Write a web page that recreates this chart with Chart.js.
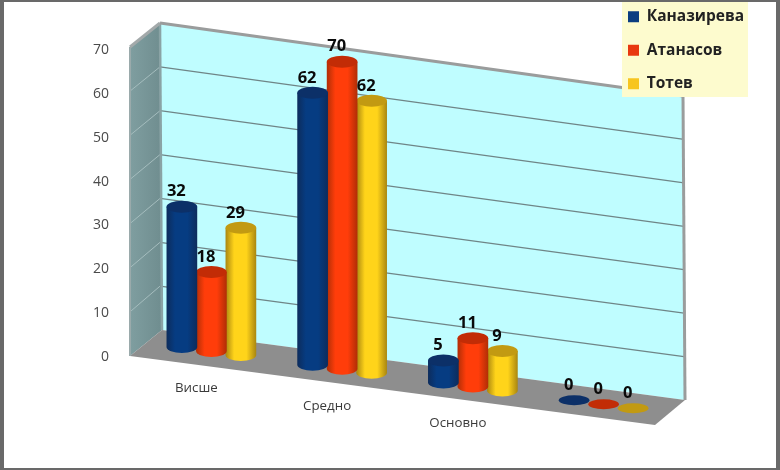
<!DOCTYPE html>
<html><head><meta charset="utf-8">
<style>html,body{margin:0;padding:0;background:#fff;overflow:hidden}canvas{display:block}</style>
<script src="https://cdn.jsdelivr.net/npm/chart.js@4/dist/chart.umd.js"></script>
</head><body><canvas id="c" width="780" height="470"></canvas>
<script>
const categories = ['Висше', 'Средно', 'Основно', ''];
const seriesNames = ['Каназирева', 'Атанасов', 'Тотев'];
const kanazireva = [32, 62, 5, 0];
const atanasov = [18, 70, 11, 0];
const totev = [29, 62, 9, 0];
const legendColors = ['#0b3d80', '#e8380f', '#f7c51f'];
const bodyEdge = ['#0d2c5c', '#b02e06', '#a98610'];
const bodyMid = ['#063c82', '#ff3d0a', '#ffd41a'];
const capColors = ['#0c3068', '#c22c06', '#c29a12'];

const SHEAR = 0.1356, SHEAR_X0 = 255.7, RY = 6;
const shearOffset = x => SHEAR * (x - SHEAR_X0);

function drawCylinder(ctx, el, ds) {
  const x = el.x, rx = el.width / 2, off = shearOffset(x);
  const top = el.y + off, base = el.base + off;
  ctx.save();
  if (base - top > 0.5) {
    const g = ctx.createLinearGradient(x - rx, 0, x + rx, 0);
    g.addColorStop(0, bodyEdge[ds]);
    g.addColorStop(0.28, bodyMid[ds]);
    g.addColorStop(0.68, bodyMid[ds]);
    g.addColorStop(1, bodyEdge[ds]);
    ctx.fillStyle = g;
    ctx.beginPath();
    ctx.moveTo(x - rx, top);
    ctx.lineTo(x - rx, base);
    ctx.ellipse(x, base, rx, RY, 0, Math.PI, 0, true);
    ctx.lineTo(x + rx, top);
    ctx.closePath();
    ctx.fill();
    ctx.fillStyle = capColors[ds];
    ctx.beginPath();
    ctx.ellipse(x, top, rx, RY, 0, 0, Math.PI * 2);
    ctx.fill();
  } else {
    ctx.fillStyle = capColors[ds];
    ctx.beginPath();
    ctx.ellipse(x, top, rx, 5, 0, 0, Math.PI * 2);
    ctx.fill();
  }
  ctx.restore();
}

function poly(ctx, pts, fill) {
  ctx.beginPath();
  pts.forEach((p, i) => i ? ctx.lineTo(p[0], p[1]) : ctx.moveTo(p[0], p[1]));
  ctx.closePath();
  ctx.fillStyle = fill;
  ctx.fill();
}
function seg(ctx, a, b, color, w) {
  ctx.beginPath(); ctx.moveTo(a[0], a[1]); ctx.lineTo(b[0], b[1]);
  ctx.strokeStyle = color; ctx.lineWidth = w; ctx.stroke();
}

const scene3d = {
  id: 'scene3d',
  afterDatasetsUpdate(chart) {
    chart.data.datasets.forEach((d, i) => {
      chart.getDatasetMeta(i).data.forEach(el => {
        el.draw = function (ctx) { drawCylinder(ctx, this, i); };
      });
    });
  },
  beforeDraw(chart) {
    const ctx = chart.ctx, yS = chart.scales.y, xS = chart.scales.x;
    // shift the category labels along the slanted floor
    xS.getLabelItems().forEach(it => {
      if (it._moved) return;
      it._moved = true;
      const t = it.options.translation;
      t[1] = 380 + SHEAR * (t[0] - 211);
      t[0] -= 15;
    });
    // move the legend to the top right corner
    const lg = chart.legend;
    lg.left = 610; lg.right = 775; lg.top = -9; lg.bottom = 120;

    ctx.save();
    ctx.fillStyle = '#fff';
    ctx.fillRect(0, 0, 780, 470);
    const FL = [130, 356], FTL = [130, 47], BL = [162, 330], BTL = [160, 23], BR = [685, 400], BTR = [683, 96], FR = [655, 425];
    const side = ctx.createLinearGradient(130, 0, 160, 0);
    side.addColorStop(0, '#7f9ea0'); side.addColorStop(1, '#708e90');
    poly(ctx, [FTL, BTL, BL, FL], side);
    poly(ctx, [BTL, BTR, BR, BL], '#bffdff');
    poly(ctx, [FL, BL, BR, FR], '#8e8e8e');
    yS.ticks.forEach(tk => {
      if (tk.value === 0 || tk.value === 70) return;
      const t = tk.value / 70;
      const fy = FL[1] - (FL[1] - FTL[1]) * t;
      const by = BL[1] - (BL[1] - BTL[1]) * t;
      const ry = BR[1] - (BR[1] - BTR[1]) * t;
      seg(ctx, [130, fy], [BTL[0], by], '#a5bdbe', 1);
      seg(ctx, [BTL[0], by], [BR[0] - 1, ry], '#6f8587', 1.2);
    });
    seg(ctx, BTL, BL, '#8aa3a5', 2.5);
    seg(ctx, [FTL[0], FTL[1]], FL, '#9aaaab', 2);
    seg(ctx, FTL, BTL, '#a3a9aa', 3);
    seg(ctx, BTL, BTR, '#9a9c9c', 3);
    seg(ctx, BTR, BR, '#9a9c9c', 3);
    poly(ctx, [[622, 2], [748, 2], [748, 97], [622, 97]], '#fdfbce');
    // frame
    ctx.fillStyle = '#696969';
    ctx.fillRect(0, 0, 780, 2);
    ctx.fillRect(0, 468, 780, 2);
    ctx.fillRect(0, 0, 4, 470);
    ctx.fillRect(776, 0, 4, 470);
    ctx.restore();
  },
  afterDatasetsDraw(chart) {
    const ctx = chart.ctx;
    ctx.save();
    ctx.font = 'bold 16.5px "Open Sans"';
    ctx.fillStyle = '#0a0a0a';
    ctx.textAlign = 'center';
    ctx.textBaseline = 'middle';
    chart.data.datasets.forEach((d, i) => {
      chart.getDatasetMeta(i).data.forEach((el, j) => {
        ctx.fillText(String(d.data[j]), el.x - 5.5, el.y + shearOffset(el.x) - 15);
      });
    });
    ctx.restore();
  }
};

const seriesData = [kanazireva, atanasov, totev];
new Chart(document.getElementById('c'), {
  type: 'bar',
  data: {
    labels: categories,
    datasets: seriesNames.map((n, i) => ({
      label: n,
      data: seriesData[i],
      backgroundColor: legendColors[i],
      borderWidth: 0,
      clip: false,
      categoryPercentage: 0.677,
      barPercentage: 1.04
    }))
  },
  options: {
    responsive: false,
    devicePixelRatio: 1,
    animation: false,
    layout: { padding: { top: 50, right: 111, left: 0, bottom: 0 } },
    plugins: {
      tooltip: { enabled: false },
      legend: {
        position: 'chartArea',
        align: 'start',
        labels: {
          boxWidth: 11, boxHeight: 11, padding: 18,
          color: '#222',
          font: { family: 'Open Sans', size: 15.5, weight: 'bold' }
        }
      }
    },
    scales: {
      x: {
        type: 'category',
        grid: { display: false },
        border: { display: false },
        ticks: { color: '#3a3a3a', font: { family: 'Open Sans', size: 13.3 }, maxRotation: 0, autoSkip: false },
        afterFit(s) { s.height = 113; }
      },
      y: {
        type: 'linear',
        min: 0, max: 70,
        grid: { display: false },
        border: { display: false },
        ticks: { stepSize: 10, color: '#4a4a4a', padding: 29, font: { family: 'Open Sans', size: 14 } },
        afterFit(s) { s.width = 146; }
      }
    }
  },
  plugins: [scene3d]
});
</script></body></html>
